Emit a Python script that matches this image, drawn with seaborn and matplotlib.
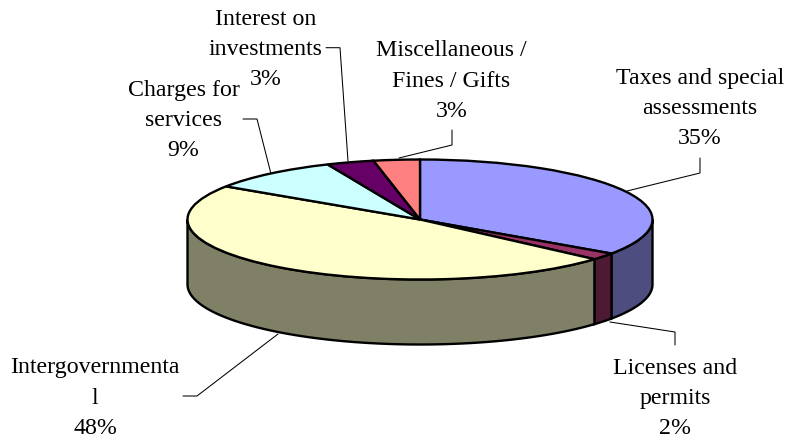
import numpy as np
import matplotlib
matplotlib.use('Agg')
import matplotlib.pyplot as plt
from matplotlib.transforms import Affine2D
import seaborn as sns

sns.set_theme(style="white")
plt.rcParams['font.family'] = ['Liberation Serif', 'DejaVu Serif']

names = ["Taxes and special\nassessments", "Licenses and\npermits", "Intergovernmenta\nl",
         "Charges for\nservices", "Interest on\ninvestments", "Miscellaneous /\nFines / Gifts"]
shares = [34.6, 1.9, 47.8, 9.2, 3.3, 3.2]
pct_labels = ["35%", "2%", "48%", "9%", "3%", "3%"]
top_colors = ["#9999FF", "#993366", "#FFFFCC", "#CCFFFF", "#660066", "#FF8080"]

# pixel layout of the tilted pie
cx, cy, rx, ry, depth = 420, 219.5, 232.5, 60, 65
lw = 1.7

fig, ax = plt.subplots(figsize=(7.89, 4.43), dpi=100)
fig.subplots_adjust(0, 0, 1, 1)

wedges, _ = ax.pie(shares, startangle=90, counterclock=False, colors=top_colors, frame=False,
                   wedgeprops=dict(edgecolor="black", linewidth=lw, joinstyle="miter"))
ax.set_aspect("auto")
ax.set_xlim(0, 789)
ax.set_ylim(443, 0)
ax.axis("off")

squash = Affine2D().scale(rx, -ry).translate(cx, cy) + ax.transData
for w in wedges:
    w.set_transform(squash)
    w.set_zorder(3)

# side walls: only the part of each wedge facing the viewer
for w, col in zip(wedges, top_colors):
    a = max(w.theta1, -180)
    b = min(w.theta2, 0)
    if b <= a:
        continue
    t = np.radians(np.linspace(a, b, 80))
    x = cx + rx * np.cos(t)
    y = cy - ry * np.sin(t)
    dark = tuple(c * 0.5 for c in matplotlib.colors.to_rgb(col))
    ax.fill(np.r_[x, x[::-1]], np.r_[y, y[::-1] + depth], facecolor=dark,
            edgecolor="black", linewidth=lw, joinstyle="miter", zorder=2)

label_pos = [(700, 108.5), (675, 398.5), (95, 398), (183.5, 120.5), (265.5, 49.5), (451.5, 81)]
for name, pct, (tx, ty) in zip(names, pct_labels, label_pos):
    ax.text(tx, ty, name + "\n" + pct, ha="center", va="center", fontsize=17.2,
            linespacing=1.58, color="black", zorder=5)

leaders = [
    [(700, 158), (700, 173), (627, 191)],
    [(675, 345), (675, 332), (610, 322)],
    [(183, 396), (197, 396), (278, 334)],
    [(243, 119), (257, 119), (270.7, 172.7)],
    [(326, 47.7), (340, 47.7), (348, 161)],
    [(452, 130), (452, 145), (399, 158)],
]
for pts in leaders:
    ax.plot(*zip(*pts), color="black", lw=0.75, zorder=1, solid_joinstyle="miter")

fig.savefig("out.png", dpi=100)
